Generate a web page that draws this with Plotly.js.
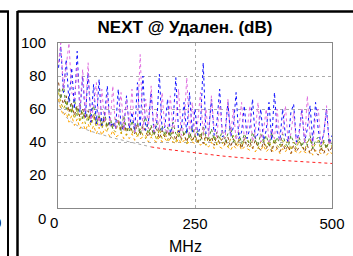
<!DOCTYPE html>
<html><head><meta charset="utf-8">
<script src="https://cdn.plot.ly/plotly-3.0.1.min.js"></script>
<style>body{margin:0;background:#fff}#chart{width:353px;height:256px}</style>
</head><body><div id="chart"></div>
<script>
const chartTitle = "NEXT @ Удален. (dB)";
const xTitle = "MHz";
const xTickVals = [0, 250, 500];
const yTickVals = [0, 20, 40, 60, 80, 100];

const freq = [1,5,10,15,20,25,30,35,40,45,50,55,60,65,70,75,80,85,90,95,
  100,105,110,115,120,125,130,135,140,145,150,155,160,165,170,175,180,185,190,195,
  200,205,210,215,220,225,230,235,240,245,250,255,260,265,270,275,280,285,290,295,
  300,305,310,315,320,325,330,335,340,345,350,355,360,365,370,375,380,385,390,395,
  400,405,410,415,420,425,430,435,440,445,450,455,460,465,470,475,480,485,490,495,500];

const pairBlue = [85,98,70,90,64,85,60,95,58,80,
  55,82,52,75,51,78,50,56,74,49,
  52,48,72,50,47,68,48,58,46,76,
  49,80,47,52,70,46,50,81,47,49,
  66,45,52,79,46,48,64,45,70,46,
  60,44,50,88,45,47,66,44,52,72,
  43,46,64,43,49,70,42,46,62,42,
  48,66,42,45,60,41,47,64,41,70,
  46,41,60,44,40,58,63,40,46,60,
  40,48,62,40,64,47,39,45,60,39,44];
const pairViolet = [88,100,72,86,100,70,66,86,60,84,
  56,88,53,62,76,50,72,52,68,50,
  74,48,54,70,47,66,50,72,46,52,
  93,47,66,48,74,46,58,47,70,48,
  45,68,46,54,72,44,50,79,45,64,
  44,52,70,44,60,43,68,47,43,64,
  46,42,66,44,60,41,48,64,42,46,
  62,40,46,64,40,47,60,40,48,42,
  60,40,46,62,40,45,58,39,44,60,
  39,68,44,38,56,60,38,45,62,38,42];
const pairGreen = [72,66,75,60,68,58,66,56,64,54,
  60,53,58,62,51,56,50,58,49,55,
  48,54,52,47,56,48,46,53,47,52,
  45,51,55,45,50,44,52,46,50,44,
  49,43,52,45,43,50,44,48,42,49,
  43,47,41,50,43,42,48,41,46,42,
  47,40,45,49,40,44,46,39,45,41,
  39,46,41,38,45,40,44,38,46,39,
  43,38,45,39,37,44,40,38,43,37,
  42,38,44,36,41,43,37,41,36,42,38];
const pairOrange = [66,60,56,58,52,56,50,54,48,52,
  47,51,46,50,45,49,44,48,46,43,
  47,43,44,46,42,45,42,45,41,44,
  42,43,44,40,43,41,40,43,40,42,
  40,42,40,39,42,39,41,39,40,40,
  39,41,38,40,38,37,40,36,39,37,
  36,39,37,35,38,36,39,35,37,36,
  35,37,34,37,35,38,34,36,35,34,
  36,33,36,34,37,33,35,34,33,35,
  34,33,35,32,35,34,33,35,32,34,33];
const pairGold = [70,64,60,64,56,61,54,60,52,58,
  51,56,50,55,49,54,48,53,47,52,
  48,46,52,45,50,44,51,45,49,43,
  48,44,42,49,43,47,41,48,42,46,
  41,47,42,40,46,41,45,39,44,40,
  45,39,43,46,38,43,40,44,38,43,
  39,43,37,42,44,38,42,37,41,43,
  37,41,43,36,40,42,37,41,36,42,
  38,36,41,37,42,35,40,36,41,37,
  35,40,42,36,39,41,35,40,36,41,37];
const pairBrown = [76,68,63,68,58,64,56,62,55,60,
  54,59,52,57,51,56,50,55,49,54,
  50,48,54,47,52,46,51,47,45,51,
  44,50,46,43,49,44,48,42,47,43,
  47,42,46,41,48,42,45,40,46,41,
  44,40,45,39,44,40,43,38,44,39,
  42,38,43,37,42,38,41,36,42,37,
  40,36,41,37,35,40,36,39,34,40,
  36,34,39,35,38,33,38,34,37,39,
  34,38,33,37,34,32,37,33,38,34,37];

const limitLowFreq = [1,4,8,15,25,40,60,80,100,125,150,170];
const limitLowVal = [65,62,59,55,52,49,46.5,44.5,42.5,40.5,38.5,37];
const limitHighFreq = [170,200,250,300,350,400,450,500];
const limitHighVal = [37,35.5,33.5,31.5,30,29,28,27];

const W = 353, H = 256, L = 58, R = 332, T = 43, B = 208;
const px = v => (v - L) / (R - L);
const py = v => (B - v) / (B - T);

function line(x, y, color) {
  return {x: x, y: y, type: 'scatter', mode: 'lines', hoverinfo: 'skip',
    line: {color: color, width: 1, dash: 'dot'}};
}
const traces = [
  line(limitLowFreq, limitLowVal, '#aaaaaa'),
  line(limitHighFreq, limitHighVal, '#ff2020'),
  line(freq, pairOrange, '#ffa500'),
  line(freq, pairGold, '#bba600'),
  line(freq, pairBrown, '#8b4513'),
  line(freq, pairGreen, '#4f8a2a'),
  line(freq, pairBlue, '#1010ff'),
  line(freq, pairViolet, '#e070e0')
];

const blk = (x0, y0, x1, y1, w) => ({type: 'line', xref: 'paper', yref: 'paper',
  x0: px(x0), y0: py(y0), x1: px(x1), y1: py(y1), line: {color: '#000', width: w}});

const tickFont = {family: 'Liberation Sans, Arial, sans-serif', size: 15, color: '#000'};
const layout = {
  width: W, height: H,
  margin: {l: L, r: W - R, t: T, b: H - B, pad: 0},
  paper_bgcolor: '#fff', plot_bgcolor: '#fff',
  showlegend: false,
  title: {text: '<b>' + chartTitle + '</b>', xref: 'container', yref: 'container',
    x: 185 / W, xanchor: 'center', y: 1 - 27 / H, yanchor: 'middle',
    font: {family: 'Liberation Sans, Arial, sans-serif', size: 17, color: '#000'}},
  xaxis: {range: [0, 500], tickvals: xTickVals, ticktext: ['', '250', '500'],
    showgrid: true, gridcolor: '#aaaaaa', griddash: 'dot', gridwidth: 1,
    zeroline: false, showline: true, linecolor: '#888', linewidth: 1, mirror: true,
    ticks: 'outside', ticklen: 2, tickcolor: 'rgba(0,0,0,0)', tickfont: tickFont},
  yaxis: {range: [0, 100], tickvals: yTickVals, ticktext: ['', '20', '40', '60', '80', '100'],
    showgrid: true, gridcolor: '#aaaaaa', griddash: 'dot', gridwidth: 1,
    zeroline: false, showline: true, linecolor: '#888', linewidth: 1, mirror: true,
    ticks: 'outside', ticklen: 8, tickcolor: 'rgba(0,0,0,0)', tickfont: tickFont},
  shapes: [
    blk(0, 11.5, 9, 11.5, 2.5),
    blk(8, 11, 8, 256, 2),
    blk(17.5, 11.5, 353, 11.5, 2.5),
    blk(17.5, 11, 17.5, 256, 2.5)
  ],
  annotations: [
    {text: xTitle, xref: 'paper', yref: 'paper', x: px(185), y: py(246),
      xanchor: 'center', yanchor: 'middle', showarrow: false,
      font: {family: 'Liberation Sans, Arial, sans-serif', size: 16, color: '#000'}},
    {text: '0', xref: 'paper', yref: 'paper', x: px(48), y: py(218),
      xanchor: 'right', yanchor: 'middle', showarrow: false, font: tickFont},
    {text: '0', xref: 'paper', yref: 'paper', x: px(53.5), y: py(222.5),
      xanchor: 'center', yanchor: 'middle', showarrow: false, font: tickFont},
    {text: '0', xref: 'paper', yref: 'paper', x: px(3), y: py(222),
      xanchor: 'right', yanchor: 'middle', showarrow: false, font: tickFont}
  ]
};
Plotly.newPlot('chart', traces, layout, {staticPlot: true, displayModeBar: false});
</script></body></html>
